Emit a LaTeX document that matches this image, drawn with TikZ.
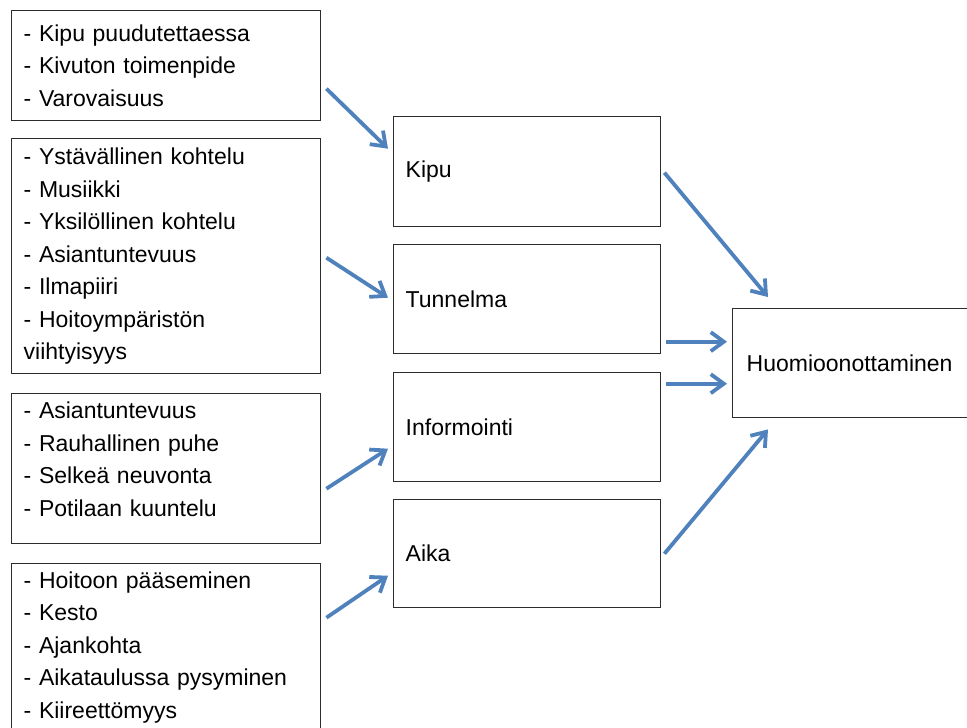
\documentclass[tikz,border=0pt]{standalone}
\usepackage{fontspec}
\setmainfont{Liberation Sans}
\usetikzlibrary{arrows.meta}
\definecolor{arrblue}{RGB}{79,129,189}
\definecolor{boxline}{RGB}{45,45,45}
\begin{document}
\begin{tikzpicture}[x=1pt,y=-1pt,
  box/.style={draw=boxline,line width=1.4pt,anchor=north west,align=left,inner xsep=12pt,inner ysep=0pt,
    font=\fontsize{23}{32.5}\selectfont},
  link/.style={draw=arrblue,line width=3.8pt,-{Straight Barb[length=13pt,width=19pt]}}]
\useasboundingbox (0,0) rectangle (967,728);
\clip (0,0) rectangle (967,728);
  \node (s1) at (11,10) [box,text width=285pt,minimum height=110pt] {- Kipu puudutettaessa\\- Kivuton toimenpide\\- Varovaisuus};
  \node (s2) at (11,138) [box,text width=285pt,minimum height=235pt] {- Ystävällinen kohtelu\\- Musiikki\\- Yksilöllinen kohtelu\\- Asiantuntevuus\\- Ilmapiiri\\- Hoitoympäristön\\viihtyisyys};
  \node (s3) at (11,393) [box,text width=285pt,minimum height=150pt] {- Asiantuntevuus\\- Rauhallinen puhe\\- Selkeä neuvonta\\- Potilaan kuuntelu\\[-13pt]\mbox{}};
  \node (s4) at (11,563) [box,text width=285pt,minimum height=167pt] {- Hoitoon pääseminen\\- Kesto\\- Ajankohta\\- Aikataulussa pysyminen\\- Kiireettömyys};
  \node (kipu) at (393,116) [box,text width=243pt,minimum height=110pt] {Kipu};
  \node (tun) at (393,244) [box,text width=243pt,minimum height=109pt] {Tunnelma};
  \node (inf) at (393,372) [box,text width=243pt,minimum height=109pt] {Informointi};
  \node (aika) at (393,499) [box,text width=243pt,minimum height=108pt] {Aika};
  \node (huom) at (732,308) [box,inner xsep=14pt,text width=232pt,minimum height=109pt] {Huomioonottaminen};
  \draw [link] ([shift={(5,23)}]s1.east) to ([shift={(-5,-23)}]kipu.west);
  \draw [link] ([shift={(5,1.5)}]s2.east) to ([shift={(-5,-1.5)}]tun.west);
  \draw [link] ([shift={(5,20)}]s3.east) to ([shift={(-5,21.5)}]inf.west);
  \draw [link] ([shift={(5,-29.5)}]s4.east) to ([shift={(-5,22)}]aika.west);
  \draw [link] ([shift={(3,1)}]kipu.east) to ([shift={(36,-11)}]huom.north west);
  \draw [link] ([shift={(5,42.5)}]tun.east) to ([shift={(-5,-21.5)}]huom.west);
  \draw [link] ([shift={(5,-43.5)}]inf.east) to ([shift={(-5,20.5)}]huom.west);
  \draw [link] ([shift={(3,0)}]aika.east) to ([shift={(36,11)}]huom.south west);
\end{tikzpicture}
\end{document}
